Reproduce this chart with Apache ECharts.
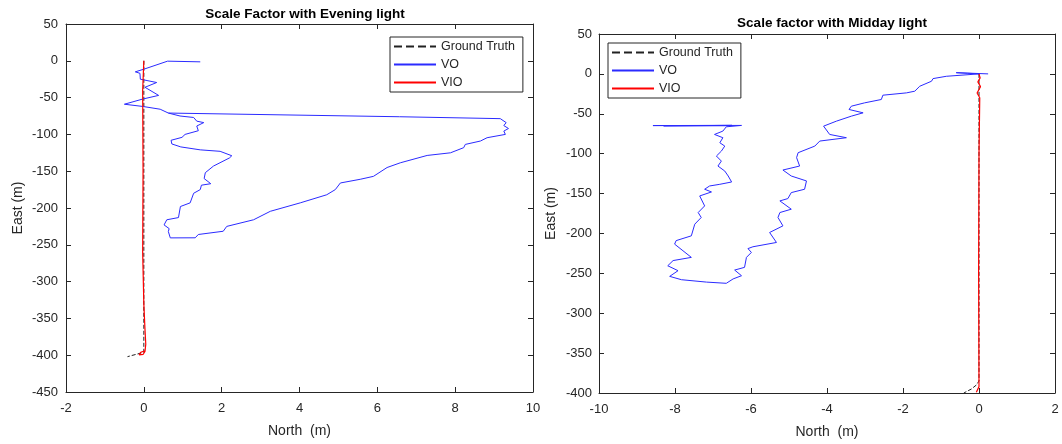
<!DOCTYPE html>
<html>
<head>
<meta charset="utf-8">
<script src="https://cdn.jsdelivr.net/npm/echarts@6/dist/echarts.min.js"></script>
<style>
html,body{margin:0;padding:0;background:#fff;}
#c{width:1062px;height:444px;}
</style>
</head>
<body>
<div id="c"></div>
<script>
// ---- Data (North, East) in metres ----
var seriesNames = ['Ground Truth', 'VO', 'VIO'];
var eveningXTicks = [-2, 10, 2];
var eveningYTicks = [-450, 50, 50];
var middayXTicks = [-10, 2, 2];
var middayYTicks = [-400, 50, 50];

var eveningGT = [[0,0],[0,-396],[-0.42,-402]];
var eveningVIO = [[0,0],[-0.03,-40],[-0.02,-150],[-0.03,-260],[0.0,-330],[0.03,-365],[0.05,-385],[0.03,-395],[-0.02,-399],[-0.12,-399.5],[-0.08,-396],[0.03,-394]];
var eveningVO = [[1.45,-1.4],[0.61,-0.5],[0,-11.4],[-0.22,-15],[-0.1,-17],[-0.09,-25],[0.33,-29.5],[0.03,-36],[0.38,-47],[-0.03,-52],[-0.5,-59],[-0.03,-62],[0.42,-65.8],[0.63,-71],
  [0.93,-75],[1.28,-77],[1.36,-82],[1.54,-84],[1.36,-88.6],[1.4,-95],[1.06,-100],[0.98,-104],[0.7,-108],[0.72,-113],[0.95,-117],[1.45,-121],[1.96,-123],[2.26,-129],[2.2,-132],[1.79,-143],[1.58,-152],[1.55,-160],[1.72,-167],[1.48,-169],[1.45,-175],[1.28,-180],[1.19,-193],[0.94,-198],[0.89,-213],[0.59,-216],[0.52,-223],[0.65,-228],[0.63,-232],[0.68,-240.6],
  [1.32,-240.5],[1.4,-236],[2.04,-231.6],[2.13,-225],[2.82,-216],[3.25,-204.5],[4.02,-193],[4.7,-182],[4.92,-175],[5.05,-166],[5.56,-161],[5.9,-157],[6.25,-145],[6.59,-138.6],[7.28,-128.6],[7.88,-125],[8.22,-118],[8.26,-113.6],[8.65,-109],[8.82,-104.5],[9.29,-100],[9.25,-95.5],[9.37,-92],[9.25,-88],[9.31,-84],[9.16,-78.6],[6.57,-76],[6.55,-73.6],[0.63,-71]];

var middayGT = [[0,0],[0,-385],[-0.07,-390],[-0.2,-395],[-0.4,-400]];
var middayVIO = [[0,0],[0.03,-5],[-0.03,-10],[0.04,-16],[-0.05,-24],[0.02,-30],[0.0,-100],[-0.01,-250],[0.0,-392],[-0.07,-399]];
var middayVO = [[0.24,0],[-0.6,1.5],[-0.3,0.8],[0.0,0],[-0.86,-3],[-1.21,-5.9],[-1.25,-9.2],[-1.56,-15.5],[-1.69,-21.7],[-1.91,-23.8],[-2.53,-26.7],[-2.57,-32.1],[-3.01,-36.3],[-3.36,-40.5],[-3.42,-44.6],[-3.05,-48.8],[-3.36,-53],[-3.75,-59.2],[-4.09,-65.5],[-3.93,-75.9],[-3.49,-80],[-4.19,-84.2],[-4.32,-90.5],[-4.76,-98.8],[-4.8,-105],[-4.72,-115.5],[-5.16,-120.5],[-4.94,-128],[-4.54,-134.2],[-4.59,-144.6],[-4.94,-148.8],[-5.03,-156.3],[-5.24,-159.2],[-4.94,-169.6],[-5.24,-173.8],[-5.29,-180],[-5.16,-190.5],[-5.51,-198.8],[-5.33,-211.3],[-5.95,-216.7],[-6.08,-219],[-5.99,-223.8],[-6.12,-230],[-6.17,-242.5],[-6.43,-245.9],[-6.25,-253],[-6.47,-257],[-6.65,-262.5],
  [-7.17,-261],[-7.83,-258],[-8.14,-253.8],[-7.92,-246.7],[-8.19,-240.5],[-8.05,-234],[-7.57,-230],[-7.79,-221.7],[-8.01,-213.4],[-7.97,-209],[-7.57,-203],[-7.48,-188.4],[-7.31,-180],[-7.39,-173.8],[-7.22,-165.5],[-7.35,-153],[-7.04,-148],[-7.22,-144.6],[-7.09,-140.5],[-6.82,-138.4],[-6.51,-135.5],[-6.6,-128],[-6.69,-121.8],[-6.87,-115.5],[-6.78,-109.3],[-6.91,-103],[-6.78,-96.8],[-6.69,-90.5],[-6.82,-86.3],[-6.74,-80],[-6.96,-75.9],[-6.74,-71.7],[-6.65,-66.3],[-6.25,-64.6],[-8.58,-64.8],[-6.5,-64.5],[-8.3,-65.2],[-6.6,-65]];

// ---- Chart ----
var FONT = 'Liberation Sans, Arial, Helvetica, sans-serif';
var AX = '#262626';
function xAx(grid, t, pos, labels, name) {
  return {
    type: 'value', gridIndex: grid, position: pos, min: t[0], max: t[1], interval: t[2],
    name: labels ? name : '', nameLocation: 'middle', nameGap: 32,
    nameTextStyle: {color: AX, fontSize: 14, fontFamily: FONT},
    axisLine: {show: true, onZero: false, lineStyle: {color: AX, width: 1}},
    axisTick: {show: true, inside: true, length: 5, lineStyle: {color: AX}},
    axisLabel: {show: labels, color: AX, fontSize: 13, fontFamily: FONT, margin: 10},
    splitLine: {show: false}
  };
}
function yAx(grid, t, pos, labels, name, margin) {
  return {
    type: 'value', gridIndex: grid, position: pos, min: t[0], max: t[1], interval: t[2],
    name: labels ? name : '', nameLocation: 'middle', nameGap: 41,
    nameTextStyle: {color: AX, fontSize: 14, fontFamily: FONT},
    axisLine: {show: true, onZero: false, lineStyle: {color: AX, width: 1}},
    axisTick: {show: true, inside: true, length: 5, lineStyle: {color: AX}},
    axisLabel: {show: labels, color: AX, fontSize: 13, fontFamily: FONT, margin: margin},
    splitLine: {show: false}
  };
}
function ser(name, data, xi, yi, color, type, w) {
  return {
    name: name, type: 'line', xAxisIndex: xi, yAxisIndex: yi, data: data,
    symbol: 'none', symbolSize: 0, showSymbol: false, animation: false, silent: true,
    lineStyle: {color: color, width: w, type: type}, itemStyle: {color: color}
  };
}
function leg(left, top) {
  return {
    data: seriesNames, orient: 'vertical', left: left, top: top,
    itemWidth: 42, itemHeight: 12, itemGap: 5, padding: [3, 8, 3, 3],
    borderColor: AX, borderWidth: 1, borderRadius: 0, backgroundColor: '#fff',
    itemStyle: {opacity: 0, borderWidth: 0},
    textStyle: {color: AX, fontSize: 12.5, fontFamily: FONT, padding: [0, 0, 0, 0]},
    selectedMode: false
  };
}
var chart = echarts.init(document.getElementById('c'), null, {renderer: 'canvas'});
chart.setOption({
  backgroundColor: '#fff',
  animation: false,
  title: [
    {text: 'Scale Factor with Evening light', left: 300, top: 2, textAlign: 'center',
     textStyle: {fontSize: 13.5, fontWeight: 'bold', color: '#000', fontFamily: FONT}},
    {text: 'Scale factor with Midday light', left: 827, top: 11, textAlign: 'center',
     textStyle: {fontSize: 13.5, fontWeight: 'bold', color: '#000', fontFamily: FONT}}
  ],
  legend: [leg(390, 37), leg(608, 43)],
  grid: [
    {left: 66, top: 24, width: 467, height: 368},
    {left: 599, top: 34, width: 456, height: 360}
  ],
  xAxis: [
    xAx(0, eveningXTicks, 'bottom', true, 'North  (m)'),
    xAx(0, eveningXTicks, 'top', false, ''),
    xAx(1, middayXTicks, 'bottom', true, 'North  (m)'),
    xAx(1, middayXTicks, 'top', false, '')
  ],
  yAxis: [
    yAx(0, eveningYTicks, 'left', true, 'East (m)', 8),
    yAx(0, eveningYTicks, 'right', false, '', 8),
    yAx(1, middayYTicks, 'left', true, 'East (m)', 7),
    yAx(1, middayYTicks, 'right', false, '', 7)
  ],
  series: [
    ser('Ground Truth', eveningGT, 0, 0, '#222', 'dashed', 1),
    ser('VO', eveningVO, 0, 0, '#2b2bff', 'solid', 1),
    ser('VIO', eveningVIO, 0, 0, '#ff0000', 'solid', 1.2),
    ser('Ground Truth', middayGT, 2, 2, '#222', 'dashed', 1),
    ser('VO', middayVO, 2, 2, '#2b2bff', 'solid', 1),
    ser('VIO', middayVIO, 2, 2, '#ff0000', 'solid', 1.2)
  ]
});
</script>
</body>
</html>
